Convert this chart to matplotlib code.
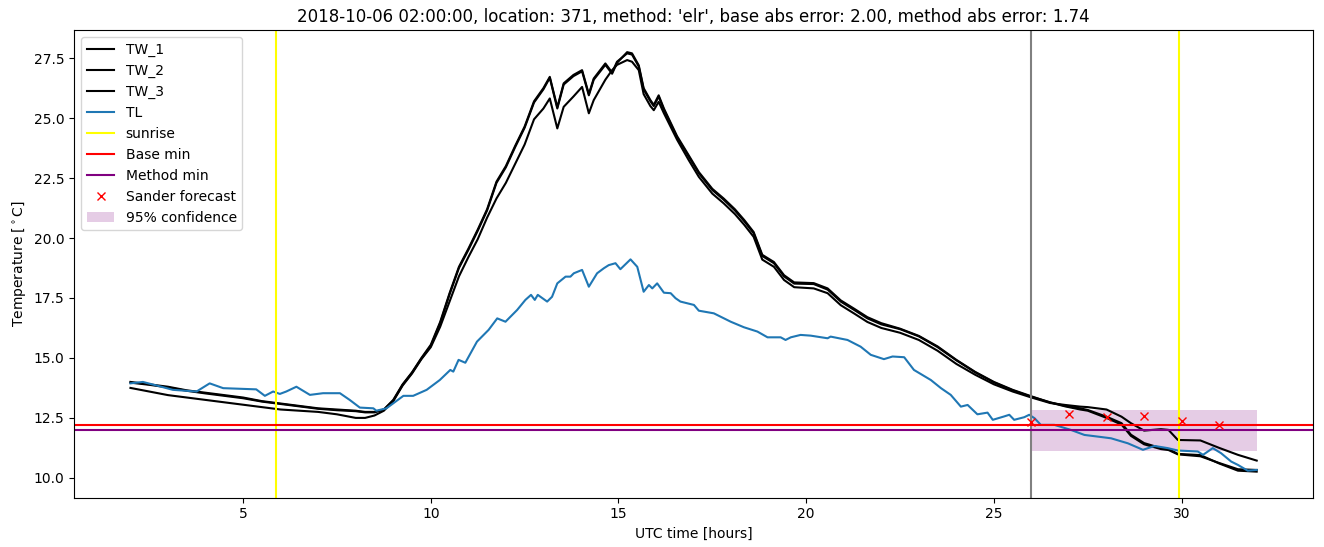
import numpy as np
import matplotlib
matplotlib.use('Agg')
import matplotlib.pyplot as plt

# time of the wet-bulb series (hours UTC from the start date)
tw_hours = [2.0, 2.5, 3.0, 3.5, 4.0, 4.5, 5.0, 5.5, 6.0, 6.5, 7.0, 7.5, 8.0, 8.25, 8.5, 8.75,
            9.0, 9.25, 9.5, 9.75, 10.0, 10.25, 10.5, 10.75, 11.0, 11.25, 11.5, 11.75, 12.0, 12.25,
            12.5, 12.75, 13.0, 13.17, 13.37, 13.54, 13.8, 14.03, 14.21, 14.34, 14.65, 14.83, 14.96,
            15.23, 15.36, 15.54, 15.67, 15.85, 15.94, 16.07, 16.21, 16.56, 16.87, 17.14, 17.5, 17.8,
            18.1, 18.35, 18.6, 18.83, 19.14, 19.41, 19.68, 20.2, 20.57, 20.92, 21.28, 21.63, 22.0,
            22.5, 23.0, 23.5, 24.0, 24.5, 25.0, 25.5, 26.0, 26.5, 26.9, 27.3, 27.5, 28.0, 28.4,
            28.65, 29.0, 29.45, 29.65, 29.9, 30.5, 31.0, 31.5, 32.0]

tw_1 = [14.0, 13.9, 13.8, 13.65, 13.55, 13.45, 13.35, 13.2, 13.1, 13.0, 12.9, 12.85, 12.8, 12.75, 12.75, 12.85,
        13.25, 13.9, 14.4, 15.0, 15.55, 16.5, 17.7, 18.8, 19.55, 20.35, 21.2, 22.35, 23.0, 23.85,
        24.65, 25.7, 26.25, 26.72, 25.45, 26.45, 26.8, 27.0, 26.0, 26.65, 27.28, 26.9, 27.35,
        27.7, 27.65, 27.15, 26.2, 25.7, 25.5, 25.9, 25.35, 24.2, 23.4, 22.7, 22.0, 21.6,
        21.15, 20.7, 20.2, 19.25, 18.95, 18.4, 18.1, 18.08, 17.85, 17.35, 17.0, 16.65, 16.4,
        16.2, 15.9, 15.45, 14.9, 14.4, 13.98, 13.65, 13.38, 13.15, 13.0, 12.9, 12.83, 12.55, 12.28,
        11.8, 11.45, 11.24, 11.2, 11.0, 10.95, 10.6, 10.3, 10.26]

tw_2 = [13.97, 13.88, 13.77, 13.63, 13.52, 13.42, 13.32, 13.18, 13.08, 12.98, 12.88, 12.82, 12.78, 12.73, 12.73, 12.85,
        13.22, 13.88, 14.38, 14.97, 15.5, 16.45, 17.65, 18.75, 19.5, 20.3, 21.15, 22.3, 22.95, 23.8,
        24.6, 25.65, 26.2, 26.68, 25.4, 26.4, 26.75, 26.95, 25.95, 26.6, 27.22, 26.85, 27.3,
        27.75, 27.7, 27.2, 26.25, 25.75, 25.55, 25.95, 25.4, 24.25, 23.45, 22.75, 22.05, 21.65,
        21.2, 20.75, 20.25, 19.3, 19.0, 18.45, 18.15, 18.12, 17.9, 17.4, 17.05, 16.7, 16.45,
        16.22, 15.92, 15.48, 14.92, 14.42, 14.0, 13.67, 13.4, 13.14, 12.98, 12.85, 12.8, 12.5, 12.22,
        11.75, 11.4, 11.2, 11.16, 10.98, 10.9, 10.62, 10.36, 10.33]

tw_3 = [13.75, 13.6, 13.45, 13.35, 13.25, 13.15, 13.05, 12.95, 12.85, 12.8, 12.75, 12.65, 12.5, 12.5, 12.6, 12.8,
        13.2, 13.85, 14.35, 14.95, 15.45, 16.3, 17.35, 18.4, 19.2, 19.95, 20.85, 21.65, 22.3, 23.1,
        23.9, 24.95, 25.4, 25.82, 24.57, 25.47, 25.9, 26.3, 25.2, 25.75, 26.6, 27.0, 27.22,
        27.42, 27.35, 27.0, 26.0, 25.5, 25.33, 25.68, 25.2, 24.1, 23.25, 22.55, 21.85, 21.45,
        21.0, 20.55, 20.05, 19.1, 18.8, 18.25, 17.95, 17.9, 17.7, 17.2, 16.85, 16.5, 16.25,
        16.05, 15.75, 15.3, 14.75, 14.3, 13.9, 13.6, 13.35, 13.12, 13.04, 12.97, 12.95, 12.85, 12.55,
        12.28, 11.97, 12.03, 12.0, 11.58, 11.56, 11.25, 10.96, 10.72]

# time of the TL series
tl_hours = [2.0, 2.33, 2.7, 3.13, 3.76, 4.11, 4.47, 5.35, 5.58, 5.8, 5.98, 6.15, 6.42, 6.78, 7.13,
            7.58, 7.84, 8.11, 8.47, 8.55, 8.82, 9.27, 9.53, 9.89, 10.24, 10.52, 10.6, 10.74, 10.92,
            11.23, 11.54, 11.77, 11.99, 12.3, 12.52, 12.67, 12.77, 12.85, 13.1, 13.23, 13.37, 13.59,
            13.72, 13.81, 14.03, 14.21, 14.43, 14.61, 14.74, 14.92, 15.05, 15.32, 15.5, 15.67, 15.81,
            15.9, 16.03, 16.21, 16.39, 16.52, 16.65, 17.01, 17.14, 17.54, 17.99, 18.34, 18.7, 18.97,
            19.32, 19.45, 19.59, 19.85, 20.12, 20.57, 20.65, 21.1, 21.45, 21.72, 22.07, 22.3, 22.61,
            22.87, 23.32, 23.59, 23.85, 24.12, 24.3, 24.56, 24.83, 24.97, 25.27, 25.41, 25.54, 25.81,
            25.94, 26.08, 26.25, 26.61, 27.05, 27.41, 27.77, 28.12, 28.57, 28.97, 29.28, 29.63, 29.9,
            30.43, 30.57, 30.83, 31.05, 31.32, 31.5, 31.76, 32.0]

tl = [13.94, 14.0, 13.85, 13.67, 13.6, 13.94, 13.74, 13.69, 13.42, 13.6, 13.5, 13.6, 13.8, 13.46, 13.53,
      13.53, 13.25, 12.93, 12.9, 12.8, 12.9, 13.42, 13.42, 13.67, 14.08, 14.5, 14.43, 14.92, 14.8,
      15.68, 16.17, 16.65, 16.51, 17.0, 17.42, 17.63, 17.42, 17.63, 17.35, 17.55, 18.11, 18.39,
      18.39, 18.53, 18.67, 17.97, 18.53, 18.74, 18.87, 18.95, 18.7, 19.11, 18.8, 17.76, 18.04,
      17.9, 18.11, 17.72, 17.7, 17.49, 17.35, 17.21, 16.97, 16.86, 16.51, 16.28, 16.1, 15.86,
      15.86, 15.75, 15.86, 15.96, 15.93, 15.82, 15.89, 15.75, 15.47, 15.13, 14.95, 15.06, 15.03,
      14.5, 14.08, 13.74, 13.46, 12.97, 13.04, 12.65, 12.72, 12.42, 12.56, 12.63, 12.42, 12.53,
      12.63, 12.49, 12.21, 12.21, 12.0, 11.79, 11.72, 11.65, 11.44, 11.17, 11.33, 11.24, 11.14,
      11.1, 10.96, 11.24, 11.03, 10.68, 10.54, 10.3, 10.33]

sunrise_hours = [5.88, 29.93]
forecast_start = 26.0
base_min = 12.22
method_min = 11.98

sander_hours = [26, 27, 28, 29, 30, 31]
sander_values = [12.35, 12.66, 12.54, 12.56, 12.38, 12.2]
conf_hours = [26, 32]
conf_low = 11.1
conf_high = 12.83

fig, ax = plt.subplots(figsize=(13.24, 5.47), dpi=100)
fig.subplots_adjust(left=0.056, right=0.9917, top=0.945, bottom=0.09)

ax.plot(tw_hours, tw_1, color='black', label='TW_1')
ax.plot(tw_hours, tw_2, color='black', label='TW_2')
ax.plot(tw_hours, tw_3, color='black', label='TW_3')
ax.plot(tl_hours, tl, color='C0', label='TL')

ax.axvline(sunrise_hours[0], color='yellow', label='sunrise')
ax.axvline(sunrise_hours[1], color='yellow')
ax.axvline(forecast_start, color='gray')
ax.axhline(base_min, color='red', label='Base min')
ax.axhline(method_min, color='purple', label='Method min')
ax.plot(sander_hours, sander_values, 'rx', label='Sander forecast')
ax.fill_between(conf_hours, conf_low, conf_high, color='purple', alpha=0.2,
                linewidth=0, label='95% confidence')

ax.set_ylim(9.17, 28.67)
ax.set_xlabel('UTC time [hours]')
ax.set_ylabel(r'Temperature [$^\circ$C]')
ax.set_title("2018-10-06 02:00:00, location: 371, method: 'elr', base abs error: 2.00, method abs error: 1.74")
ax.legend(loc='upper left')

plt.savefig('out.png')
